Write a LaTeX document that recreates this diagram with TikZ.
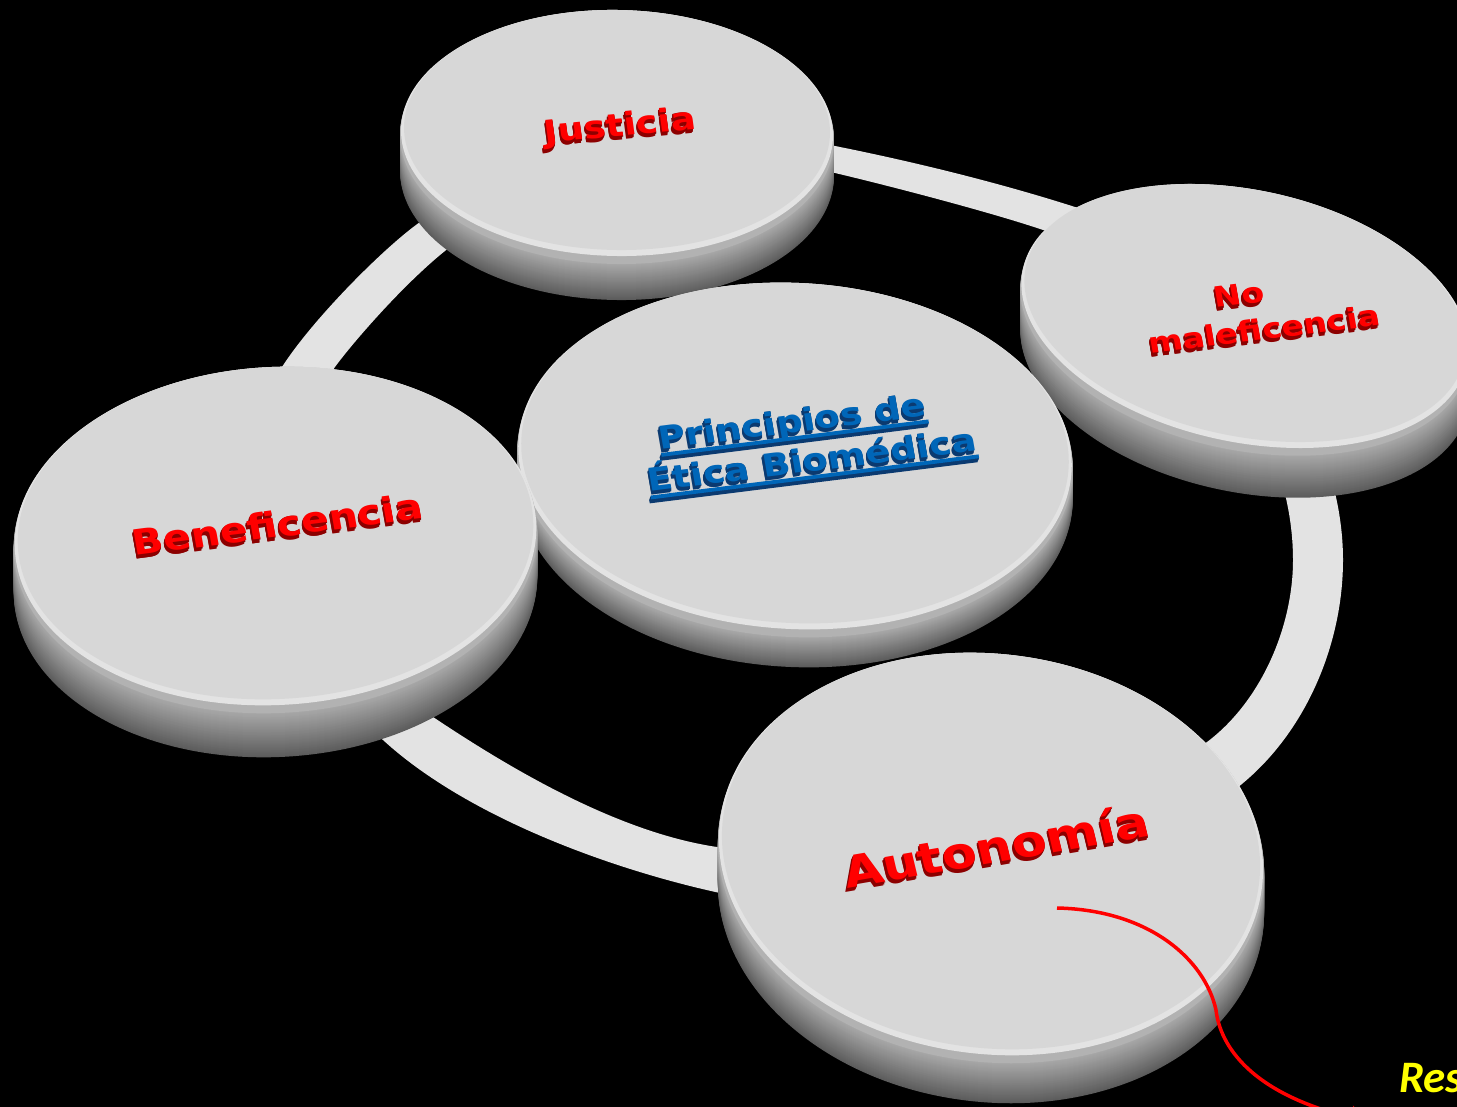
\documentclass[tikz,border=0pt]{standalone}
\usepackage{fontspec}
\setmainfont{DejaVu Sans}
\newfontfamily\labfont{DejaVu Sans}
\newfontfamily\resfont{Carlito}
\usetikzlibrary{calc,arrows.meta}

\definecolor{ringc}{HTML}{E3E3E3}
\definecolor{facec}{HTML}{D7D7D7}
\definecolor{rimc}{HTML}{E3E3E3}
\definecolor{bevelc}{HTML}{B2B2B2}
\definecolor{sidetop}{HTML}{A6A6A6}
\definecolor{sidebot}{HTML}{5C5C5C}
\definecolor{redf}{HTML}{FF0000}
\definecolor{redx}{HTML}{8C0000}
\definecolor{bluef}{HTML}{0066B8}
\definecolor{bluex}{HTML}{0B3A70}
\definecolor{resc}{HTML}{FFFF00}

% disc: #1 name, #2 cx, #3 cy, #4 A, #5 B, #6 rotation, #7 depth
\newcommand\disc[7]{%
  \foreach \k in {#7,...,1}{%
    \pgfmathtruncatemacro\p{100*(\k-1)/(#7-1)}%
    \fill[sidebot!\p!sidetop, rotate around={#6:(#2,#3+\k)}] (#2,#3+\k) ellipse [x radius=#4pt, y radius=#5pt];
  }
  \fill[bevelc, rotate around={#6:(#2,#3)}] (#2,#3) ellipse [x radius=#4pt, y radius=#5pt];
  \fill[rimc, rotate around={#6:(#2,#3-4)}] (#2,#3-4) ellipse [x radius=#4pt-1pt, y radius=#5pt-4pt];
  \fill[facec, rotate around={#6:(#2,#3-7)}] (#2,#3-7) ellipse [x radius=#4pt-4pt, y radius=#5pt-7pt];
  \coordinate (#1) at (#2,#3);
}
% extruded text: #1 name, #2 position, #3 options, #4 shadow colour, #5 front colour, #6 text
\newcommand\xtext[6]{%
  \foreach \k in {5,...,1}{\node[#3, text=#4] at ($(#2)+(-0.3*\k,0.8*\k)$) {#6};}%
  \node[#3, text=#5] (#1) at (#2) {#6};%
}
\newcommand\ulx[1]{\setbox0=\hbox{#1}\rlap{\rule[-9pt]{\wd0}{4.5pt}}\box0}

\tikzset{lab/.style={inner sep=0pt, yscale=0.85}}

\begin{document}
\begin{tikzpicture}[x=1pt,y=-1pt]
\useasboundingbox (0,0) rectangle (1457,1107);
\fill[black] (0,0) rectangle (1457,1107);

% ring
\fill[ringc, even odd rule]
  (835,146) .. controls (915,162) and (1000,183) .. (1075,207)
  .. controls (1218,253) and (1343,410) .. (1343,560)
  .. controls (1343,640) and (1309.4,723.5) .. (1250,777)
  .. controls (1138.5,877) and (912,935) .. (720,893)
  .. controls (614,870) and (468,818) .. (383,740)
  .. controls (290,656) and (218,469) .. (282,367)
  .. controls (314.4,316.6) and (389.8,242) .. (423,220)
  .. controls (522.6,154) and (717.8,120.2) .. (835,146) -- cycle
  (835,173) .. controls (890,186) and (1010,217) .. (1060,236)
  .. controls (1181.5,282) and (1293,420) .. (1293,560)
  .. controls (1293,630) and (1258,708) .. (1200,747)
  .. controls (1100,814) and (862,868) .. (717,847)
  .. controls (615,832) and (505,765) .. (433,717)
  .. controls (350,662) and (276,448) .. (335,367)
  .. controls (352.7,342.7) and (406.5,280.5) .. (450,247)
  .. controls (529,186) and (718.4,144.8) .. (835,173) -- cycle;

% discs
\disc{djus}{617}{137}{217}{127}{-1}{36}
\disc{dnom}{1245}{320}{228}{130}{-12}{42}
\disc{dcen}{795}{460}{278}{177}{-3}{30}
\disc{dben}{275.5}{540}{262}{173}{3}{44}
\disc{daut}{991}{858}{274}{204}{-7}{40}

% labels
\xtext{jus}{621.5,136}{lab, anchor=base, rotate=6.5, font=\labfont\bfseries\fontsize{37}{40}\selectfont}{redx}{redf}{Justicia}
\xtext{nom}{1261,311}{lab, align=center, anchor=center, rotate=8.4, font=\labfont\bfseries\fontsize{33}{44}\selectfont}{redx}{redf}{\hbox{No\kern38pt}\\maleficencia}
\xtext{cen}{809,443}{lab, align=center, anchor=center, rotate=8.4, font=\labfont\bfseries\fontsize{37}{48}\selectfont}{bluex}{bluef}{\hbox{\ulx{Principios de}\kern26pt}\\\ulx{Ética Biomédica}}
\xtext{ben}{280,537}{lab, anchor=base, rotate=8.7, font=\labfont\bfseries\fontsize{41}{44}\selectfont}{redx}{redf}{Beneficencia}
\xtext{aut}{1000,862}{lab, anchor=base, rotate=11.5, font=\labfont\bfseries\fontsize{51}{55}\selectfont}{redx}{redf}{Autonomía}

% connector
\coordinate (cstart) at (1057,908);
\coordinate (cend) at (1370,1122);
\draw[redf, line width=3.5pt, -{Stealth[length=20pt,width=24pt]}] (cstart) .. controls (1150,910) and (1205,960) .. (1216,1010) .. controls (1220,1045) and (1250,1095) .. (cend);

\node[inner sep=0pt, anchor=base west, text=resc, font=\resfont\bfseries\itshape\fontsize{45}{50}\selectfont] (res) at (1399,1092) {Res};
\end{tikzpicture}
\end{document}
